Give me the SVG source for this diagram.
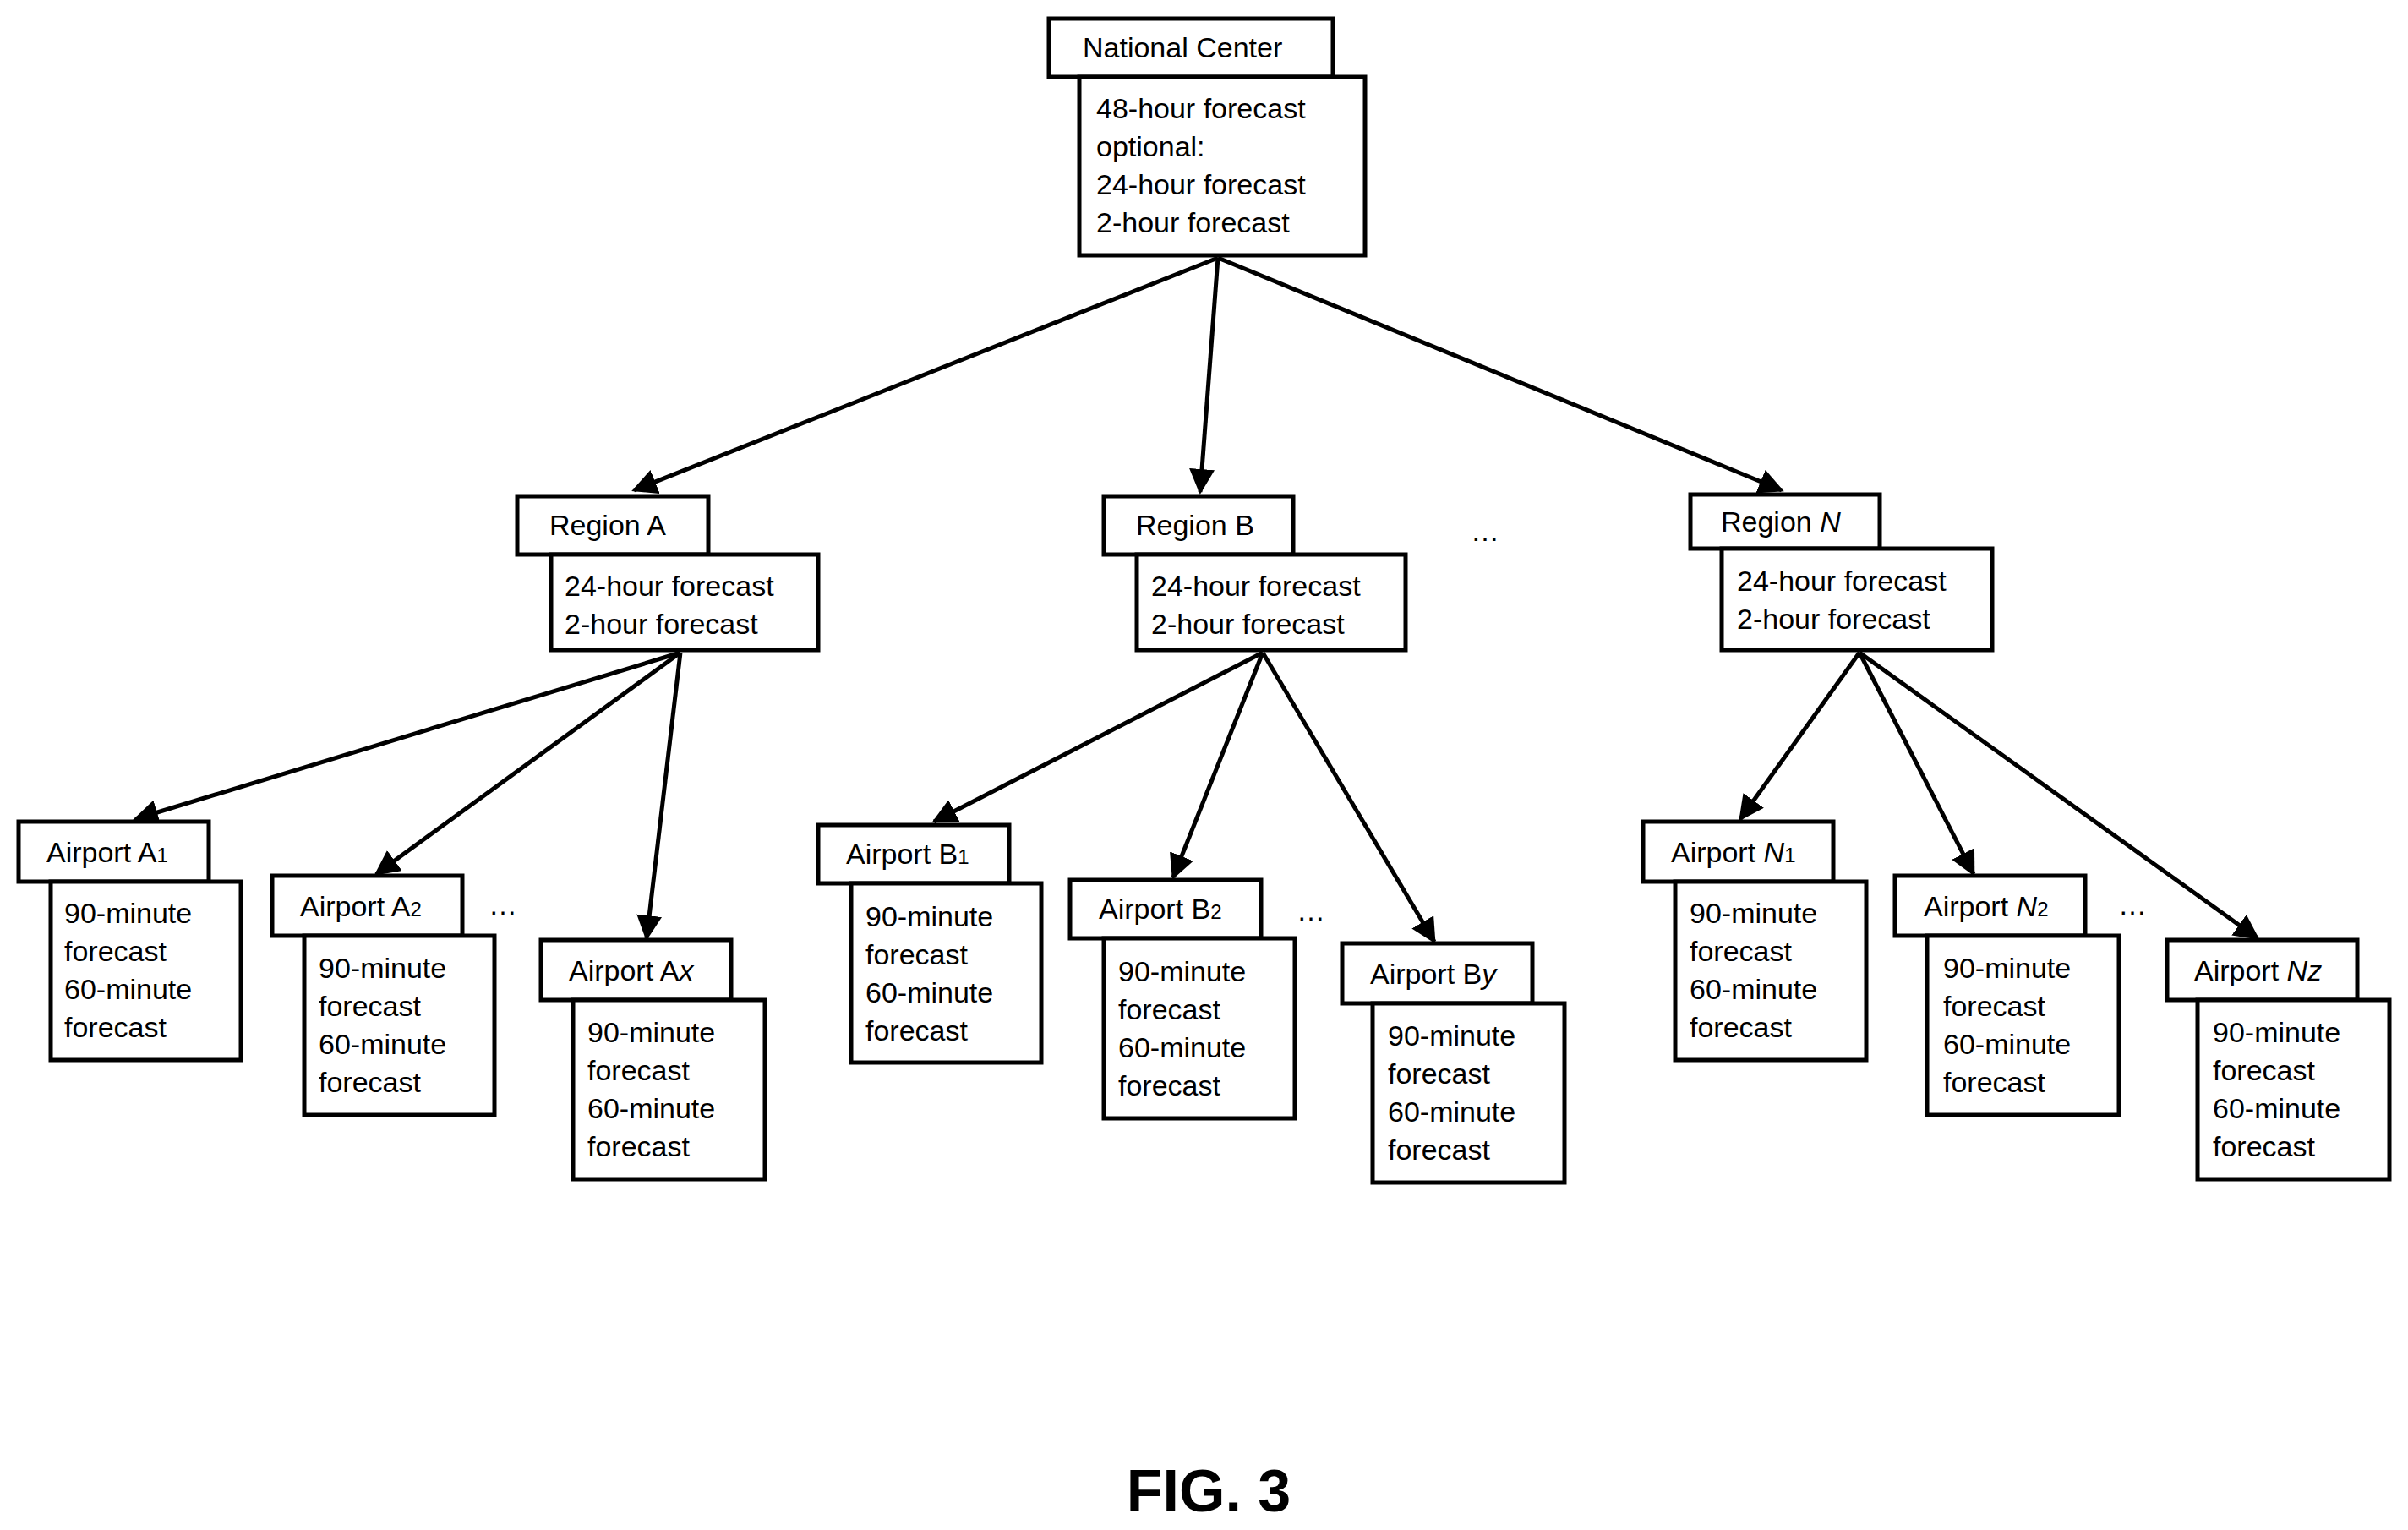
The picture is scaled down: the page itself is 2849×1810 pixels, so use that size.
<svg xmlns="http://www.w3.org/2000/svg" width="2849" height="1810" viewBox="0 0 2849 1810">
<style>
rect{fill:#fff;stroke:#000;stroke-width:5}
text{font-family:"Liberation Sans",Arial,sans-serif;font-size:34px;fill:#000}
.s{font-size:24px}
.i{font-style:italic}
.c line{stroke:#000;stroke-width:5}
.fig{font-size:70px;font-weight:bold}
</style>
<defs><marker id="a" viewBox="0 0 10 10" refX="9" refY="5" markerWidth="6" markerHeight="6" markerUnits="strokeWidth" orient="auto"><path d="M0,0L10,5L0,10z" fill="#000"/></marker></defs>
<rect x="0" y="0" width="2849" height="1810" style="stroke:none"/>
<g class="c">
<line x1="1441" y1="305" x2="750" y2="580" marker-end="url(#a)"/>
<line x1="1441" y1="305" x2="1420" y2="582" marker-end="url(#a)"/>
<line x1="1441" y1="305" x2="2108" y2="580" marker-end="url(#a)"/>
<line x1="805" y1="772" x2="160" y2="969" marker-end="url(#a)"/>
<line x1="805" y1="772" x2="445" y2="1034" marker-end="url(#a)"/>
<line x1="805" y1="772" x2="765" y2="1110" marker-end="url(#a)"/>
<line x1="1494" y1="772" x2="1105" y2="972" marker-end="url(#a)"/>
<line x1="1494" y1="772" x2="1388" y2="1038" marker-end="url(#a)"/>
<line x1="1494" y1="772" x2="1697" y2="1114" marker-end="url(#a)"/>
<line x1="2200" y1="772" x2="2059" y2="969" marker-end="url(#a)"/>
<line x1="2200" y1="772" x2="2335" y2="1034" marker-end="url(#a)"/>
<line x1="2200" y1="772" x2="2671" y2="1110" marker-end="url(#a)"/>
</g>
<g id="national">
<rect x="1241" y="22" width="336" height="69"/>
<rect x="1277" y="91" width="338" height="211"/>
<text x="1281" y="68">National Center</text>
<text x="1297" y="140">48-hour forecast</text>
<text x="1297" y="185">optional:</text>
<text x="1297" y="230">24-hour forecast</text>
<text x="1297" y="275">2-hour forecast</text>
</g>
<g id="regionA">
<rect x="612" y="587" width="226" height="69"/>
<rect x="652" y="656" width="316" height="113"/>
<text x="650" y="633">Region A</text>
<text x="668" y="705">24-hour forecast</text>
<text x="668" y="750">2-hour forecast</text>
</g>
<g id="regionB">
<rect x="1306" y="587" width="224" height="69"/>
<rect x="1345" y="656" width="318" height="113"/>
<text x="1344" y="633">Region B</text>
<text x="1362" y="705">24-hour forecast</text>
<text x="1362" y="750">2-hour forecast</text>
</g>
<g id="regionN">
<rect x="2000" y="585" width="224" height="64"/>
<rect x="2037" y="649" width="320" height="120"/>
<text x="2036" y="629">Region <tspan class="i">N</tspan></text>
<text x="2055" y="699">24-hour forecast</text>
<text x="2055" y="744">2-hour forecast</text>
</g>
<text x="1740" y="640">…</text>
<g id="airportA1">
<rect x="22" y="972" width="225" height="71"/>
<rect x="60" y="1043" width="225" height="211"/>
<text x="55" y="1020">Airport A<tspan class="s">1</tspan></text>
<text x="76" y="1092">90-minute</text><text x="76" y="1137">forecast</text><text x="76" y="1182">60-minute</text><text x="76" y="1227">forecast</text>
</g>
<g id="airportA2">
<rect x="322" y="1036" width="225" height="71"/>
<rect x="360" y="1107" width="225" height="212"/>
<text x="355" y="1084">Airport A<tspan class="s">2</tspan></text>
<text x="377" y="1157">90-minute</text><text x="377" y="1202">forecast</text><text x="377" y="1247">60-minute</text><text x="377" y="1292">forecast</text>
</g>
<text x="578" y="1082">…</text>
<g id="airportAx">
<rect x="640" y="1112" width="225" height="71"/>
<rect x="678" y="1183" width="227" height="212"/>
<text x="673" y="1160">Airport A<tspan class="i">x</tspan></text>
<text x="695" y="1233">90-minute</text><text x="695" y="1278">forecast</text><text x="695" y="1323">60-minute</text><text x="695" y="1368">forecast</text>
</g>
<g id="airportB1">
<rect x="968" y="976" width="226" height="69"/>
<rect x="1007" y="1045" width="225" height="212"/>
<text x="1001" y="1022">Airport B<tspan class="s">1</tspan></text>
<text x="1024" y="1096">90-minute</text><text x="1024" y="1141">forecast</text><text x="1024" y="1186">60-minute</text><text x="1024" y="1231">forecast</text>
</g>
<g id="airportB2">
<rect x="1266" y="1041" width="226" height="69"/>
<rect x="1306" y="1110" width="226" height="213"/>
<text x="1300" y="1087">Airport B<tspan class="s">2</tspan></text>
<text x="1323" y="1161">90-minute</text><text x="1323" y="1206">forecast</text><text x="1323" y="1251">60-minute</text><text x="1323" y="1296">forecast</text>
</g>
<text x="1534" y="1089">…</text>
<g id="airportBy">
<rect x="1588" y="1116" width="225" height="71"/>
<rect x="1624" y="1187" width="227" height="212"/>
<text x="1621" y="1164">Airport B<tspan class="i">y</tspan></text>
<text x="1642" y="1237">90-minute</text><text x="1642" y="1282">forecast</text><text x="1642" y="1327">60-minute</text><text x="1642" y="1372">forecast</text>
</g>
<g id="airportN1">
<rect x="1944" y="972" width="225" height="71"/>
<rect x="1982" y="1043" width="226" height="211"/>
<text x="1977" y="1020">Airport <tspan class="i">N</tspan><tspan class="s">1</tspan></text>
<text x="1999" y="1092">90-minute</text><text x="1999" y="1137">forecast</text><text x="1999" y="1182">60-minute</text><text x="1999" y="1227">forecast</text>
</g>
<g id="airportN2">
<rect x="2242" y="1036" width="225" height="71"/>
<rect x="2280" y="1107" width="227" height="212"/>
<text x="2276" y="1084">Airport <tspan class="i">N</tspan><tspan class="s">2</tspan></text>
<text x="2299" y="1157">90-minute</text><text x="2299" y="1202">forecast</text><text x="2299" y="1247">60-minute</text><text x="2299" y="1292">forecast</text>
</g>
<text x="2506" y="1082">…</text>
<g id="airportNz">
<rect x="2564" y="1112" width="225" height="71"/>
<rect x="2600" y="1183" width="227" height="212"/>
<text x="2596" y="1160">Airport <tspan class="i">Nz</tspan></text>
<text x="2618" y="1233">90-minute</text><text x="2618" y="1278">forecast</text><text x="2618" y="1323">60-minute</text><text x="2618" y="1368">forecast</text>
</g>
<text class="fig" x="1430" y="1788" text-anchor="middle">FIG. 3</text>
</svg>
